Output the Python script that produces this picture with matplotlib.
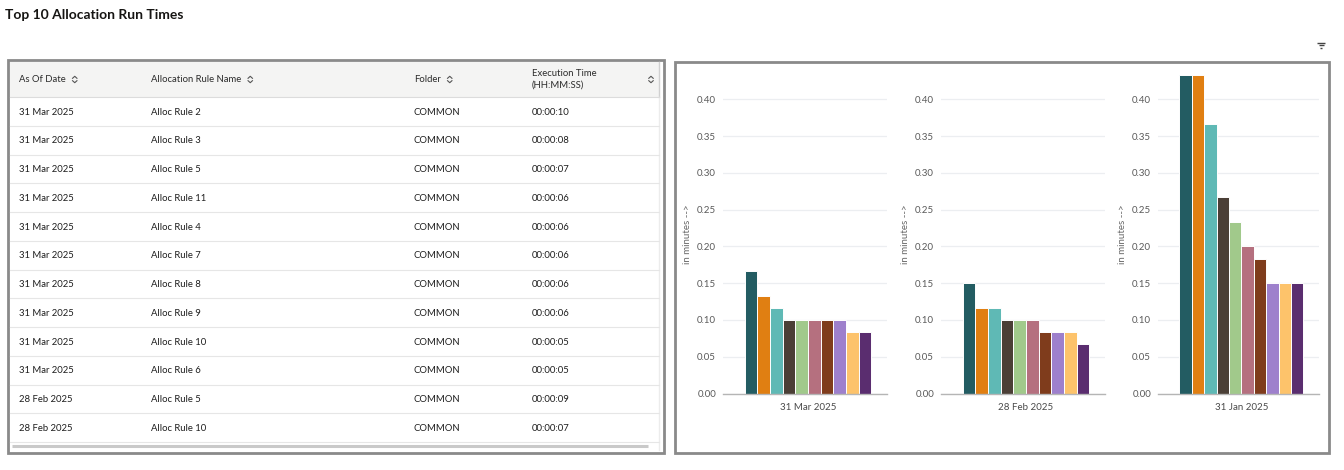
import matplotlib
matplotlib.use("Agg")
import matplotlib.pyplot as plt
from matplotlib.patches import Rectangle

plt.rcParams['font.family'] = ['Lato', 'DejaVu Sans']

# ---------------- data ----------------
title = "Top 10 Allocation Run Times"
table_columns = ["As Of Date", "Allocation Rule Name", "Folder", "Execution Time\n(HH:MM:SS)"]
as_of_dates = ["31 Mar 2025"] * 10 + ["28 Feb 2025"] * 2
rule_names = ["Alloc Rule 2", "Alloc Rule 3", "Alloc Rule 5", "Alloc Rule 11", "Alloc Rule 4",
              "Alloc Rule 7", "Alloc Rule 8", "Alloc Rule 9", "Alloc Rule 10", "Alloc Rule 6",
              "Alloc Rule 5", "Alloc Rule 10"]
folders = ["COMMON"] * 12
exec_times = ["00:00:10", "00:00:08", "00:00:07", "00:00:06", "00:00:06", "00:00:06",
              "00:00:06", "00:00:06", "00:00:05", "00:00:05", "00:00:09", "00:00:07"]

chart_dates = ["31 Mar 2025", "28 Feb 2025", "31 Jan 2025"]
minutes_mar = [0.1667, 0.1333, 0.1167, 0.1000, 0.1000, 0.1000, 0.1000, 0.1000, 0.0833, 0.0833]
minutes_feb = [0.1500, 0.1167, 0.1167, 0.1000, 0.1000, 0.1000, 0.0833, 0.0833, 0.0833, 0.0667]
minutes_jan = [0.4333, 0.4333, 0.3667, 0.2667, 0.2333, 0.2000, 0.1833, 0.1500, 0.1500, 0.1500]
y_ticks = [0.00, 0.05, 0.10, 0.15, 0.20, 0.25, 0.30, 0.35, 0.40]
y_label = "in minutes -->"

bar_colors = ["#235c62", "#e07f12", "#5fb9b5", "#4b3f36", "#a1c98b",
              "#b5707f", "#7f3c1c", "#9e80cc", "#fdc36b", "#5a2d6f"]

# ---------------- figure ----------------
W, H = 1344, 470
fig = plt.figure(figsize=(W / 100, H / 100), dpi=100)
fig.patch.set_facecolor("white")

bg = fig.add_axes([0, 0, 1, 1])
bg.set_xlim(0, W)
bg.set_ylim(H, 0)
bg.axis("off")

def fx(px):
    return px / W

def fy(py):
    return 1 - py / H

# title
bg.text(5, 15, title, fontsize=10, fontweight="bold", color="#161513", va="center", ha="left")

# filter icon (top right)
for w, yy in [(8, 42.5), (5, 45), (2, 47.5)]:
    bg.plot([1321 - w / 2, 1321 + w / 2], [yy, yy], color="#444", lw=1.0, solid_capstyle="butt")

# ---------- table panel ----------
tx0, tx1, ty0, ty1 = 8, 664, 60, 453
bg.add_patch(Rectangle((10, 62), 649, 35, facecolor="#f4f4f3", edgecolor="none"))
bg.add_patch(Rectangle((tx0, ty0), tx1 - tx0, ty1 - ty0, facecolor="none", edgecolor="#8a8a8a", lw=2))
bg.plot([659, 659], [62, 97], color="#d0d0d0", lw=1)
bg.plot([659, 659], [97, 450], color="#ececec", lw=1)

col_x = [19, 151, 414, 532]
header_y = 79.5
tfs = 6.8

def sort_icon(x, y):
    bg.plot([x - 2.2, x, x + 2.2], [y - 1.2, y - 3.2, y - 1.2], color="#555", lw=0.8)
    bg.plot([x - 2.2, x, x + 2.2], [y + 1.2, y + 3.2, y + 1.2], color="#555", lw=0.8)

renderer = fig.canvas.get_renderer()
for j, (cx, name) in enumerate(zip(col_x, table_columns)):
    t = bg.text(cx, header_y, name, fontsize=tfs, color="#2b2b2b", va="center", ha="left",
                linespacing=1.3)
    if j < len(table_columns) - 1:
        ext = t.get_window_extent(renderer=renderer)
        sort_icon(ext.x1 + 9, header_y)
    else:
        sort_icon(651, header_y)

row_top = 97
row_h = 28.75
bg.plot([10, 659], [row_top, row_top], color="#dcdcdc", lw=0.8)
for i in range(len(as_of_dates)):
    yc = row_top + row_h * (i + 0.5) + 0.7
    for cx, val in zip(col_x, [as_of_dates[i], rule_names[i], folders[i], exec_times[i]]):
        bg.text(cx, yc, val, fontsize=tfs, color="#1e1e1e", va="center", ha="left")
    yl = row_top + row_h * (i + 1)
    if yl < 445:
        bg.plot([10, 659], [yl, yl], color="#e6e6e6", lw=0.8)

# horizontal scrollbar
bg.plot([12, 648], [445.5, 445.5], color="#c9c9c9", lw=2.2, solid_capstyle="butt")

# ---------- chart panel ----------
cx0, cx1, cy0, cy1 = 675, 1329, 62, 453
bg.add_patch(Rectangle((cx0, cy0), cx1 - cx0, cy1 - cy0, facecolor="none", edgecolor="#8a8a8a", lw=2))

axes_px = [(723, 887), (941, 1105), (1158, 1319)]
y_zero, y_top = 393.5, 75.0
series = [minutes_mar, minutes_feb, minutes_jan]

for (l, r), vals, date in zip(axes_px, series, chart_dates):
    ax = fig.add_axes([fx(l), fy(y_zero), (r - l) / W, (y_zero - y_top) / H])
    ax.set_facecolor("none")
    xs = list(range(len(vals)))
    ax.bar(xs, vals, width=1.0, color=bar_colors, edgecolor="#ffffff", linewidth=0.7, zorder=3)
    ax.set_xlim(-2.22, len(vals) - 1 + 1.75)
    ax.set_ylim(0, max(minutes_jan))
    ax.set_yticks(y_ticks)
    ax.set_yticklabels([f"{t:.2f}" for t in y_ticks])
    ax.set_xticks([(len(vals) - 1) / 2])
    ax.set_xticklabels([date])
    ax.tick_params(axis="y", length=0, pad=5, labelsize=7, labelcolor="#5a5a5a")
    ax.tick_params(axis="x", length=0, pad=7, labelsize=7, labelcolor="#4a4a4a")
    ax.yaxis.grid(True, color="#eceef1", lw=0.9)
    ax.set_axisbelow(True)
    for s in ["top", "right", "left"]:
        ax.spines[s].set_visible(False)
    ax.spines["bottom"].set_color("#b5b5b5")
    ax.spines["bottom"].set_linewidth(1.0)
    ax.spines["bottom"].set_zorder(4)
    ax.set_ylabel(y_label, fontsize=7, color="#666666")
    ax.yaxis.set_label_coords(-0.19, 0.5)

fig.savefig("out.png", dpi=100, facecolor="white")
